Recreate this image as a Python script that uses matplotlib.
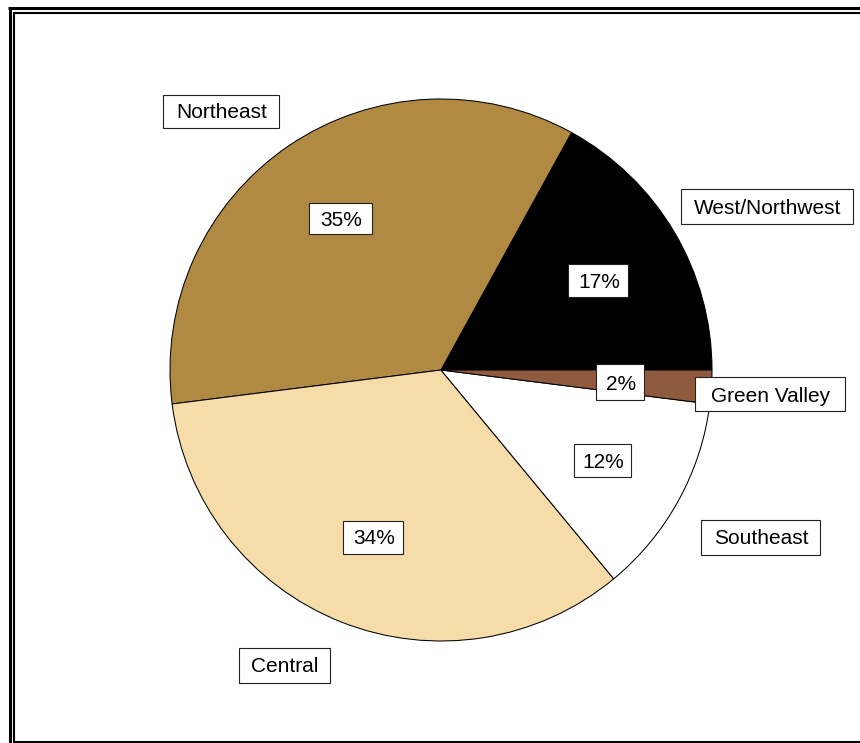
import matplotlib.pyplot as plt
from matplotlib.patches import Rectangle
from matplotlib.lines import Line2D

# Share of total by region (percent)
regions = ['West/Northwest', 'Northeast', 'Central', 'Southeast', 'Green Valley']
shares = [17, 35, 34, 12, 2]
colors = ['#000000', '#B08A42', '#F5DCA8', '#FFFFFF', '#8E5B3E']

W, H = 860, 743
fig = plt.figure(figsize=(W / 100, H / 100), dpi=100)
ax = fig.add_axes([0, 0, 1, 1])
ax.set_xlim(0, W)
ax.set_ylim(0, H)
ax.set_aspect('equal')
ax.axis('off')

# pixel-style coordinates measured from the top edge
def py(y):
    return H - y

ax.pie(shares, colors=colors, startangle=0, counterclock=True,
       center=(441, py(370)), radius=271,
       wedgeprops=dict(edgecolor='black', linewidth=0.75))
ax.set_xlim(0, W)
ax.set_ylim(0, H)

font = dict(family=['Liberation Sans', 'DejaVu Sans'], fontsize=15, color='black')

def boxed(x, y, w, h, text):
    ax.add_patch(Rectangle((x - w / 2, py(y) - h / 2), w, h, facecolor='white',
                           edgecolor='#222222', linewidth=0.8, zorder=5))
    ax.text(x + 1, py(y + 7.5), text, ha='center', va='baseline', zorder=6, **font)

# region name boxes: centre x, centre y, width, height
name_pos = [(767, 206), (221, 111), (284, 665), (760, 537), (770, 394)]
name_box = [(172, 35), (116, 33), (91, 35), (119, 35), (150, 34)]
for name, (x, y), (w, h) in zip(regions, name_pos, name_box):
    boxed(x, y, w, h, name)

# percentage boxes inside the slices
pct_pos = [(598, 280), (340, 218), (373, 537), (602, 460), (620, 382)]
pct_box = [(60, 33), (63, 31), (60, 33), (57, 33), (48, 36)]
for v, (x, y), (w, h) in zip(shares, pct_pos, pct_box):
    boxed(x, y, w, h, f'{v}%')

# double-line frame around the chart
frame = dict(color='black', solid_capstyle='butt', zorder=10)
ax.add_line(Line2D([9.5, 9.5], [py(6.5), -5], linewidth=2.2, **frame))
ax.add_line(Line2D([8, W + 5], [py(8), py(8)], linewidth=2.2, **frame))
ax.add_line(Line2D([14, 14], [py(12), py(742)], linewidth=1.5, **frame))
ax.add_line(Line2D([13, W + 5], [py(13), py(13)], linewidth=1.5, **frame))
ax.add_line(Line2D([13, W + 5], [py(741.5), py(741.5)], linewidth=1.5, **frame))

fig.savefig('out.png', dpi=100, facecolor='white')
